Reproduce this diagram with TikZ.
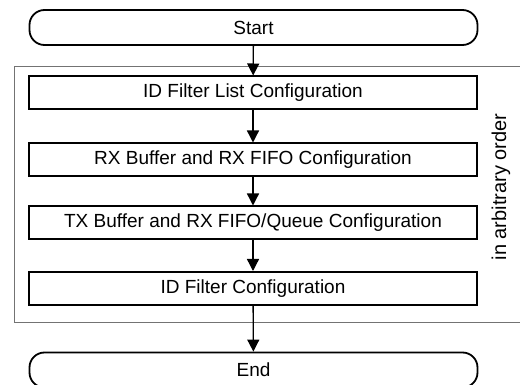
\documentclass[tikz,border=0pt]{standalone}
\usepackage{fontspec}
\setmainfont{Liberation Sans}
\usetikzlibrary{arrows.meta}
\begin{document}
\begin{tikzpicture}[x=1pt, y=-1pt,
      terminal/.style={draw, line width=1.8pt, rounded corners=15pt, minimum width=448pt, minimum height=35pt, inner sep=0pt, font=\fontsize{19}{22}\selectfont},
      cfgbox/.style={draw, line width=2pt, minimum width=448pt, minimum height=33pt, inner sep=0pt, font=\fontsize{19}{22}\selectfont},
      arrow/.style={-{Triangle[length=12pt, width=12pt]}, line width=1.3pt}
    ]
      \useasboundingbox (0,0) rectangle (520,385);

      % frame round the steps that may be done in any order
      \draw[black!55, line width=1pt] (530,67) -- (14,67) -- (14,322) -- (530,322);
      \node[rotate=90, font=\fontsize{20}{24}\selectfont] (order) at (501,187) {in arbitrary order};

      \node[terminal] (start) at (253.5,27.5) {Start};
      \node[cfgbox] (idlist) at (253,93) {ID Filter List Configuration};
      \node[cfgbox] (rxbuf) at (253,160) {RX Buffer and RX FIFO Configuration};
      \node[cfgbox] (txbuf) at (253,223) {TX Buffer and RX FIFO/Queue Configuration};
      \node[cfgbox] (idfilt) at (253,288.5) {ID Filter Configuration};
      \node[terminal] (end) at (253.5,370) {End};

      \draw[arrow] (start) -- (idlist);
      \draw[arrow] (idlist) -- (rxbuf);
      \draw[arrow] (rxbuf) -- (txbuf);
      \draw[arrow] (txbuf) -- (idfilt);
      \draw[arrow] (idfilt) -- (end);
    \end{tikzpicture}
\end{document}
